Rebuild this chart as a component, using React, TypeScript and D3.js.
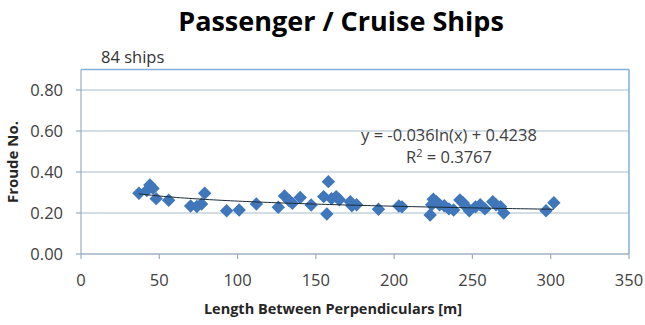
import React from "react";
import * as d3 from "d3";

const lengths = [37, 42, 44, 46, 48, 56, 70, 74, 77, 79, 93, 101, 112, 126, 130, 133, 135, 140, 147, 155, 157, 158, 160, 163, 165, 172, 173, 176, 190, 203, 205, 223, 224, 225, 227, 229, 232, 235, 238, 242, 244, 246, 248, 252, 255, 258, 263, 265, 268, 270, 297, 302];
const froude = [0.296, 0.31, 0.337, 0.32, 0.27, 0.262, 0.234, 0.232, 0.244, 0.296, 0.211, 0.215, 0.244, 0.228, 0.283, 0.26, 0.247, 0.276, 0.239, 0.28, 0.195, 0.353, 0.27, 0.28, 0.265, 0.255, 0.235, 0.24, 0.218, 0.234, 0.23, 0.19, 0.24, 0.267, 0.255, 0.24, 0.235, 0.22, 0.215, 0.263, 0.25, 0.231, 0.211, 0.23, 0.24, 0.22, 0.255, 0.24, 0.231, 0.2, 0.211, 0.25];
const xTicks = [0, 50, 100, 150, 200, 250, 300, 350];
const yTicks = [0, 0.2, 0.4, 0.6, 0.8];
const trendA = -0.036;
const trendB = 0.4238;
const title = "Passenger / Cruise Ships";
const subtitle = "84 ships";
const xLabel = "Length Between Perpendiculars [m]";
const yLabel = "Froude No.";
const eqText = "y = -0.036ln(x) + 0.4238";
const r2Value = "0.3767";

export default function App() {
  const W = 645, H = 325;
  const left = 81, right = 629, top = 69.5, bottom = 254;
  const x = d3.scaleLinear().domain([0, 350]).range([left, right]);
  const y = d3.scaleLinear().domain([0, 0.9]).range([bottom, top]);
  const font = "'Open Sans', sans-serif";
  const xmin = d3.min(lengths)!, xmax = d3.max(lengths)!;
  const trendPts = d3.range(0, 101).map(i => {
    const v = xmin + (xmax - xmin) * i / 100;
    return [v, trendA * Math.log(v) + trendB] as [number, number];
  });
  const line = d3.line<[number, number]>().x(d => x(d[0])).y(d => y(d[1]));
  const diamond = d3.symbol().type(d3.symbolDiamond2).size(115)();
  return (
    <svg width={W} height={H} style={{ position: "absolute", left: 0, top: 0, background: "#fff" }}>
      <rect width={W} height={H} fill="#fff" />
      <text x={341} y={31} textAnchor="middle" fontFamily={font} fontWeight="bold" fontSize={27} fill="#000">{title}</text>
      <text x={101} y={63} fontFamily={font} fontSize={16.5} fill="#333">{subtitle}</text>
      {yTicks.map(t => (
        <line key={"g" + t} x1={left} x2={right} y1={y(t)} y2={y(t)} stroke="#A8BCCC" strokeWidth={1.2} />
      ))}
      <line x1={left} x2={right} y1={top} y2={top} stroke="#7FB0DE" strokeWidth={1.5} />
      <line x1={right} x2={right} y1={top} y2={bottom} stroke="#7FB0DE" strokeWidth={1.5} />
      <line x1={left} x2={left} y1={top} y2={bottom} stroke="#9AAEBE" strokeWidth={1.2} />
      <line x1={left} x2={right} y1={bottom} y2={bottom} stroke="#9AAEBE" strokeWidth={1.2} />
      {yTicks.map(t => (
        <g key={"yt" + t}>
          <line x1={left - 5} x2={left} y1={y(t)} y2={y(t)} stroke="#9AAEBE" strokeWidth={1.2} />
          <text x={63} y={y(t) + 5.5} textAnchor="end" fontFamily={font} fontSize={16.5} fill="#404040">{t.toFixed(2)}</text>
        </g>
      ))}
      {xTicks.map(t => (
        <g key={"xt" + t}>
          <line x1={x(t)} x2={x(t)} y1={bottom} y2={bottom + 5} stroke="#9AAEBE" strokeWidth={1.2} />
          <text x={x(t)} y={286} textAnchor="middle" fontFamily={font} fontSize={16.5} fill="#404040">{t}</text>
        </g>
      ))}
      {lengths.map((L, i) => (
        <path key={"p" + i} d={diamond!} transform={`translate(${x(L)},${y(froude[i])})`} fill="#3F77BA" />
      ))}
      <path d={line(trendPts)!} fill="none" stroke="#1B2A36" strokeWidth={1} />
      <text x={449} y={141} textAnchor="middle" fontFamily={font} fontSize={16.5} fill="#404040">{eqText}</text>
      <text x={449} y={163} textAnchor="middle" fontFamily={font} fontSize={16.5} fill="#404040">
        R<tspan dy={-6} fontSize={11}>2</tspan><tspan dy={6}> = {r2Value}</tspan>
      </text>
      <text x={333} y={314} textAnchor="middle" fontFamily={font} fontWeight="bold" fontSize={14.5} fill="#262626">{xLabel}</text>
      <text transform={`translate(18,162) rotate(-90)`} textAnchor="middle" fontFamily={font} fontWeight="bold" fontSize={15} fill="#262626">{yLabel}</text>
    </svg>
  );
}
